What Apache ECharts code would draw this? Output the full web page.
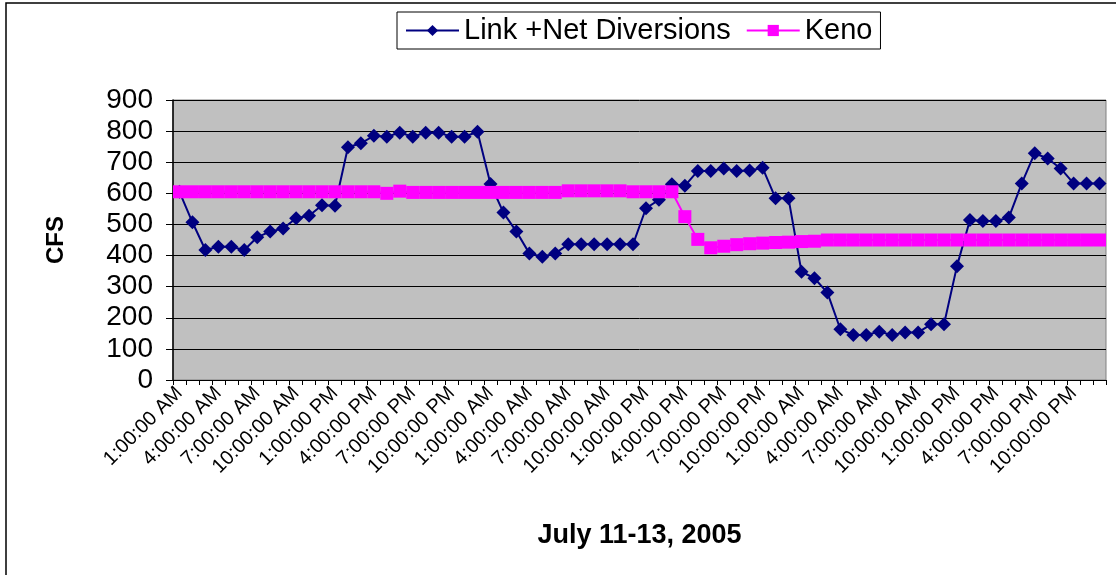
<!DOCTYPE html>
<html>
<head>
<meta charset="utf-8">
<script src="https://cdn.jsdelivr.net/npm/echarts@6/dist/echarts.min.js"></script>
<style>
  html, body { margin: 0; padding: 0; background: #fff; }
  #main { width: 1116px; height: 575px; }
</style>
</head>
<body>
<div id="main"></div>
<script>
var chartDom = document.getElementById('main');
var myChart = echarts.init(chartDom, null);
var option;

// hourly readings, 1:00 AM July 11 through 12:00 AM July 14
var hourLabels = ['1:00:00 AM','2:00:00 AM','3:00:00 AM','4:00:00 AM','5:00:00 AM','6:00:00 AM',
  '7:00:00 AM','8:00:00 AM','9:00:00 AM','10:00:00 AM','11:00:00 AM','12:00:00 PM',
  '1:00:00 PM','2:00:00 PM','3:00:00 PM','4:00:00 PM','5:00:00 PM','6:00:00 PM',
  '7:00:00 PM','8:00:00 PM','9:00:00 PM','10:00:00 PM','11:00:00 PM','12:00:00 AM'];
var categories = hourLabels.concat(hourLabels, hourLabels);

var linkNet = [605, 507, 418, 428, 428, 418, 459, 477, 487, 520, 528, 562,
  560, 748, 761, 785, 782, 795, 782, 795, 795, 782, 782, 798,
  630, 538, 477, 407, 396, 407, 436, 436, 436, 436, 436, 436,
  552, 579, 629, 624, 672, 672, 680, 672, 673, 682, 584, 584,
  348, 327, 281, 163, 145, 145, 155, 145, 153, 153, 179, 179,
  366, 514, 511, 511, 522, 632, 729, 712, 680, 632, 632, 632];

var keno = [605, 605, 605, 605, 605, 605, 605, 605, 605, 605, 605, 605,
  605, 605, 605, 605, 600, 607, 603, 603, 603, 603, 603, 603,
  603, 603, 603, 603, 603, 603, 608, 608, 608, 608, 608, 605,
  605, 605, 605, 525, 452, 425, 430, 435, 438, 440, 442, 443,
  445, 446, 450, 450, 450, 450, 450, 450, 450, 450, 450, 450,
  450, 450, 450, 450, 450, 450, 450, 450, 450, 450, 450, 450];

var yTicks = [0, 900, 100];

option = {
  textStyle: { fontFamily: 'Liberation Sans, Arial, sans-serif', color: '#000' },
  animation: false,
  graphic: [{
    type: 'rect',
    shape: { x: 6, y: 3, width: 1120, height: 600 },
    style: { fill: 'none', stroke: '#000', lineWidth: 1.5 },
    silent: true
  }],
  legend: {
    top: 12,
    left: 397,
    itemWidth: 53,
    itemHeight: 14,
    itemGap: 15,
    padding: [4, 8, 4, 8],
    borderColor: '#000',
    borderWidth: 1,
    textStyle: { fontSize: 29, color: '#000' },
    data: ['Link +Net Diversions', 'Keno']
  },
  grid: { left: 173, right: 10, top: 100, bottom: 195, show: true, backgroundColor: '#C0C0C0', borderColor: '#808080', borderWidth: 1 },
  xAxis: {
    type: 'category',
    data: categories,
    boundaryGap: true,
    name: 'July 11-13, 2005',
    nameLocation: 'middle',
    nameGap: 142,
    nameTextStyle: { fontSize: 27, fontWeight: 'bold', color: '#000' },
    axisLine: { lineStyle: { color: '#000', width: 1 } },
    axisTick: { show: true, interval: 0, length: 5, lineStyle: { color: '#000' } },
    axisLabel: { interval: 2, rotate: 45, fontSize: 20, color: '#000', margin: 10 },
    splitLine: { show: false }
  },
  yAxis: {
    type: 'value',
    min: yTicks[0],
    max: yTicks[1],
    interval: yTicks[2],
    name: 'CFS',
    nameLocation: 'middle',
    nameRotate: 90,
    nameGap: 105,
    nameTextStyle: { fontSize: 24, fontWeight: 'bold', color: '#000' },
    axisLine: { show: true, lineStyle: { color: '#000', width: 1.5 } },
    axisTick: { show: true, length: 7, lineStyle: { color: '#000' } },
    axisLabel: { fontSize: 28, color: '#000', margin: 20 },
    splitLine: { show: true, lineStyle: { color: '#000', width: 1 } }
  },
  series: [
    {
      name: 'Link +Net Diversions',
      type: 'line',
      data: linkNet,
      symbol: 'diamond',
      symbolSize: 14,
      showAllSymbol: true,
      itemStyle: { color: '#000080' },
      lineStyle: { color: '#000080', width: 2 },
      z: 2
    },
    {
      name: 'Keno',
      type: 'line',
      data: keno,
      symbol: 'rect',
      symbolSize: 13,
      showAllSymbol: true,
      itemStyle: { color: '#FF00FF' },
      lineStyle: { color: '#FF00FF', width: 2 },
      z: 3
    }
  ]
};

myChart.setOption(option);
</script>
</body>
</html>
